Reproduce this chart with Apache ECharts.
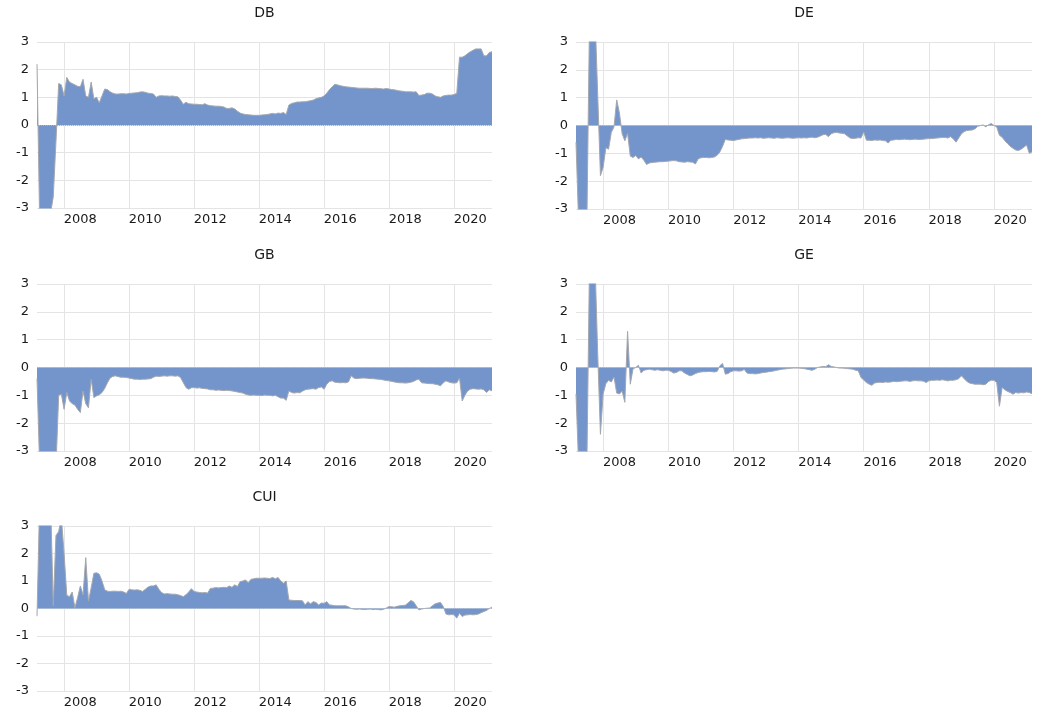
<!DOCTYPE html>
<html><head><meta charset="utf-8">
<script src="https://cdn.jsdelivr.net/npm/echarts@6/dist/echarts.min.js"></script>
<style>html,body{margin:0;padding:0;background:#fff}#c{width:1040px;height:711px}</style>
</head><body><div id="c"></div>
<script>
// Monthly observations, Mar 2007 .. Mar 2021
const startYear = 2007, startMonth = 3, monthCount = 169;
const months = [];
for (let k = 0; k < monthCount; k++) {
  const m = startMonth - 1 + k;
  const y = startYear + Math.floor(m / 12);
  const mm = m % 12 + 1;
  months.push(y + '-' + (mm < 10 ? '0' : '') + mm);
}
const yearLabels = ['2008', '2010', '2012', '2014', '2016', '2018', '2020'];
const panelTitles = ['DB', 'DE', 'GB', 'GE', 'CUI'];

const dbValues = [
  2.2, -3.6, -3.6, -3.6, -3.6, -3.2, -2.6, -0.6, 1.5, 1.45,
  1.05, 1.72, 1.55, 1.5, 1.45, 1.4, 1.38, 1.65, 1.05, 1.0, 1.55, 0.95,
  1.0, 0.8, 1.05, 1.3, 1.28, 1.2, 1.15, 1.12, 1.12, 1.13, 1.13, 1.12,
  1.14, 1.15, 1.16, 1.17, 1.19, 1.2, 1.18, 1.15, 1.14, 1.12, 1.0, 1.05,
  1.06, 1.05, 1.05, 1.04, 1.05, 1.03, 1.02, 0.9, 0.75, 0.82, 0.77, 0.76,
  0.75, 0.75, 0.74, 0.73, 0.77, 0.72, 0.7, 0.69, 0.68, 0.68, 0.67, 0.65,
  0.6, 0.6, 0.62, 0.58, 0.5, 0.43, 0.4, 0.38, 0.37, 0.36, 0.35, 0.35,
  0.35, 0.36, 0.37, 0.38, 0.4, 0.42, 0.4, 0.43, 0.42, 0.45, 0.38, 0.72,
  0.78, 0.8, 0.83, 0.83, 0.84, 0.84, 0.86, 0.88, 0.9, 0.95, 0.98, 1.0,
  1.05, 1.15, 1.28, 1.38, 1.47, 1.45, 1.42, 1.4, 1.38, 1.37, 1.36, 1.35,
  1.34, 1.33, 1.33, 1.33, 1.33, 1.32, 1.32, 1.33, 1.32, 1.31, 1.3, 1.32,
  1.3, 1.28, 1.27, 1.25, 1.23, 1.22, 1.2, 1.2, 1.2, 1.19, 1.2, 1.07,
  1.08, 1.1, 1.15, 1.15, 1.12, 1.05, 1.02, 1.0, 1.05, 1.07, 1.08, 1.08,
  1.1, 1.15, 2.45, 2.45, 2.5, 2.58, 2.65, 2.7, 2.75, 2.75, 2.75, 2.5,
  2.5, 2.62, 2.65
];
const deValues = [
  -0.6, -3.6, -3.6, -3.6, -3.6, 4, 4, 4, 1.1, -1.8,
  -1.5, -0.8, -0.85, -0.25, -0.05, 0.92, 0.45, -0.3, -0.55, -0.28, -1.1, -1.15,
  -1.08, -1.2, -1.13, -1.25, -1.4, -1.35, -1.33, -1.32, -1.31, -1.3, -1.3, -1.29,
  -1.28, -1.27, -1.26, -1.27, -1.3, -1.31, -1.32, -1.3, -1.31, -1.32, -1.38, -1.2,
  -1.16, -1.15, -1.15, -1.16, -1.15, -1.13, -1.07, -0.95, -0.75, -0.5, -0.52, -0.53,
  -0.54, -0.52, -0.5, -0.48, -0.47, -0.46, -0.45, -0.45, -0.44, -0.45, -0.44, -0.46,
  -0.45, -0.44, -0.45, -0.46, -0.44, -0.45, -0.46, -0.45, -0.44, -0.45, -0.46, -0.45,
  -0.44, -0.45, -0.44, -0.45, -0.43, -0.42, -0.44, -0.42, -0.38, -0.33, -0.32, -0.4,
  -0.3, -0.26, -0.25, -0.27, -0.28, -0.3, -0.38, -0.45, -0.47, -0.46, -0.44, -0.45,
  -0.23, -0.53, -0.53, -0.54, -0.52, -0.53, -0.52, -0.54, -0.55, -0.63, -0.53, -0.52,
  -0.5, -0.51, -0.5, -0.49, -0.5, -0.51, -0.5, -0.49, -0.5, -0.5, -0.49, -0.48,
  -0.47, -0.47, -0.46, -0.45, -0.44, -0.43, -0.43, -0.45, -0.4, -0.48, -0.6, -0.45,
  -0.3, -0.22, -0.18, -0.17, -0.16, -0.12, -0.03, 0.0, 0.02, -0.05, 0.03, 0.07,
  0.0, -0.05, -0.35, -0.42, -0.55, -0.65, -0.75, -0.82, -0.88, -0.9, -0.85, -0.78,
  -0.7, -1.0, -0.95
];
const gbValues = [
  -0.4, -3.6, -3.6, -3.6, -3.6, -3.6, -3.6, -3.6, -1.0, -0.96,
  -1.5, -0.9, -1.2, -1.3, -1.35, -1.5, -1.62, -0.84, -1.3, -1.45, -0.42, -1.08,
  -1.02, -0.98, -0.9, -0.75, -0.55, -0.38, -0.32, -0.3, -0.33, -0.35, -0.35, -0.36,
  -0.38, -0.4, -0.42, -0.42, -0.43, -0.42, -0.42, -0.41, -0.4, -0.35, -0.31, -0.32,
  -0.31, -0.3, -0.31, -0.3, -0.3, -0.31, -0.3, -0.36, -0.54, -0.72, -0.78, -0.73,
  -0.72, -0.74, -0.73, -0.75, -0.76, -0.77, -0.8, -0.8, -0.82, -0.81, -0.82, -0.83,
  -0.82, -0.83, -0.84, -0.86, -0.88, -0.9, -0.92, -0.96, -0.99, -1.0, -0.99, -1.0,
  -1.0, -1.01, -0.99, -1.0, -1.0, -1.02, -1.0, -1.05, -1.1, -1.1, -1.18, -0.84,
  -0.9, -0.92, -0.9, -0.91, -0.85, -0.8, -0.78, -0.77, -0.76, -0.78, -0.72, -0.7,
  -0.78, -0.6, -0.5, -0.48, -0.53, -0.54, -0.55, -0.54, -0.55, -0.52, -0.3, -0.38,
  -0.4, -0.39, -0.38, -0.38, -0.39, -0.4, -0.4, -0.41, -0.42, -0.43, -0.45, -0.47,
  -0.48, -0.5, -0.52, -0.54, -0.55, -0.55, -0.56, -0.55, -0.53, -0.5, -0.45, -0.42,
  -0.55, -0.56, -0.57, -0.58, -0.58, -0.6, -0.62, -0.66, -0.55, -0.48, -0.52, -0.55,
  -0.56, -0.55, -0.38, -1.2, -1.0, -0.84, -0.78, -0.76, -0.77, -0.78, -0.77, -0.8,
  -0.9, -0.8, -0.84
];
const geValues = [
  -0.95, -3.6, -3.6, -3.6, -3.6, 4, 4, 3.8, 0.5, -2.4,
  -0.95, -0.58, -0.46, -0.52, -0.34, -0.92, -0.95, -0.85, -1.25, 1.3, -0.6, -0.05,
  0.0, 0.08, -0.2, -0.1, -0.08, -0.06, -0.08, -0.1, -0.08, -0.1, -0.12, -0.1,
  -0.1, -0.14, -0.2, -0.18, -0.12, -0.12, -0.2, -0.25, -0.3, -0.27, -0.22, -0.18,
  -0.16, -0.15, -0.15, -0.14, -0.15, -0.16, -0.14, 0.06, 0.15, -0.24, -0.22, -0.15,
  -0.12, -0.12, -0.13, -0.12, -0.07, -0.2, -0.22, -0.22, -0.23, -0.22, -0.2, -0.18,
  -0.17, -0.15, -0.14, -0.12, -0.1, -0.08, -0.06, -0.05, -0.04, -0.03, -0.02, -0.02,
  -0.02, -0.03, -0.04, -0.06, -0.08, -0.1, -0.06, 0.0, 0.02, 0.04, 0.03, 0.1,
  0.04, 0.02, 0.0, -0.02, -0.02, -0.03, -0.04, -0.05, -0.06, -0.1, -0.12, -0.36,
  -0.45, -0.54, -0.6, -0.64, -0.56, -0.54, -0.53, -0.54, -0.52, -0.53, -0.52, -0.5,
  -0.51, -0.5, -0.49, -0.48, -0.48, -0.5, -0.48, -0.47, -0.48, -0.48, -0.49, -0.54,
  -0.48, -0.46, -0.46, -0.45, -0.46, -0.44, -0.46, -0.48, -0.46, -0.46, -0.44, -0.4,
  -0.3, -0.4, -0.5, -0.56, -0.58, -0.6, -0.6, -0.6, -0.62, -0.6, -0.5, -0.46,
  -0.46, -0.54, -1.39, -0.72, -0.8, -0.86, -0.9, -0.96, -0.9, -0.92, -0.9, -0.91,
  -0.88, -0.9, -0.94
];
const cuiValues = [
  -0.28, 4, 4, 4, 4, 4, 0.1, 2.65, 2.8, 3.3,
  2.0, 0.48, 0.43, 0.6, 0.03, 0.4, 0.82, 0.5, 1.85, 0.27, 0.75, 1.28,
  1.3, 1.25, 1.0, 0.68, 0.63, 0.62, 0.63, 0.63, 0.62, 0.63, 0.6, 0.55,
  0.7, 0.68, 0.67, 0.68, 0.66, 0.62, 0.7, 0.78, 0.82, 0.82, 0.86, 0.7,
  0.58, 0.53, 0.54, 0.53, 0.52, 0.52, 0.5, 0.47, 0.43, 0.5, 0.6, 0.72,
  0.62, 0.6, 0.58, 0.57, 0.58, 0.56, 0.73, 0.74, 0.76, 0.75, 0.76, 0.77,
  0.76, 0.82, 0.77, 0.86, 0.8, 0.98, 1.0, 1.04, 0.94, 1.06, 1.08, 1.1,
  1.1, 1.1, 1.11, 1.1, 1.09, 1.13, 1.08, 1.13, 1.0, 0.92, 1.0, 0.31,
  0.3, 0.29, 0.29, 0.29, 0.28, 0.13, 0.25, 0.17, 0.25, 0.22, 0.13, 0.2,
  0.19, 0.25, 0.13, 0.12, 0.1, 0.1, 0.1, 0.1, 0.1, 0.06, 0.0, -0.02,
  -0.03, -0.02, -0.03, -0.04, -0.03, -0.02, -0.04, -0.03, -0.04, -0.05, -0.03, 0.02,
  0.07, 0.06, 0.05, 0.08, 0.1, 0.11, 0.12, 0.2, 0.29, 0.25, 0.1, -0.05,
  -0.02, 0.0, 0.01, 0.02, 0.1, 0.17, 0.2, 0.22, 0.07, -0.2, -0.23, -0.22,
  -0.23, -0.35, -0.17, -0.29, -0.24, -0.23, -0.22, -0.23, -0.22, -0.2, -0.15, -0.11,
  -0.07, 0.0, 0.05
];
const panelValues = [dbValues, deValues, gbValues, geValues, cuiValues];

const grids = [
  { left: 37, top: 42, width: 455, height: 166 },
  { left: 576, top: 42, width: 456, height: 167 },
  { left: 37, top: 284, width: 455, height: 167 },
  { left: 576, top: 284, width: 456, height: 167 },
  { left: 37, top: 526, width: 455, height: 165 }
];
const FONT = 'DejaVu Sans';
const gridColor = '#e4e4e4';

const isYearStart = (i, v) => v.endsWith('-01') && yearLabels.includes(v.slice(0, 4));
const isYearMid = (i, v) => v.endsWith('-07') && yearLabels.includes(v.slice(0, 4));

const option = {
  animation: false,
  backgroundColor: '#fff',
  title: grids.map((g, k) => ({
    text: panelTitles[k],
    left: g.left + g.width / 2,
    top: g.top - 36,
    textAlign: 'center',
    padding: 0,
    textStyle: { fontFamily: FONT, fontSize: 14, fontWeight: 'normal', color: '#1a1a1a' }
  })),
  grid: grids.map(g => ({ left: g.left, top: g.top, width: g.width, height: g.height, containLabel: false })),
  xAxis: grids.map((g, k) => ({
    type: 'category',
    gridIndex: k,
    data: months,
    boundaryGap: false,
    axisLine: { show: false },
    axisTick: { show: true, interval: isYearStart, length: 5, lineStyle: { color: gridColor } },
    splitLine: { show: true, interval: isYearStart, lineStyle: { color: gridColor, width: 1 } },
    axisLabel: {
      interval: isYearMid,
      formatter: v => v.slice(0, 4),
      fontFamily: FONT, fontSize: 13, color: '#1a1a1a', margin: 5
    }
  })),
  yAxis: grids.map((g, k) => ({
    type: 'value',
    gridIndex: k,
    min: -3, max: 3, interval: 1,
    axisLine: { show: false },
    axisTick: { show: false },
    splitLine: { show: true, lineStyle: { color: gridColor, width: 1 } },
    axisLabel: { fontFamily: FONT, fontSize: 13, color: '#1a1a1a', margin: 8 }
  })),
  series: panelValues.map((vals, k) => ({
    type: 'line',
    name: panelTitles[k],
    xAxisIndex: k,
    yAxisIndex: k,
    data: vals,
    symbol: 'none',
    clip: true,
    lineStyle: { color: '#a4a7ad', width: 1 },
    areaStyle: { color: '#7395cc', opacity: 1 },
    markLine: {
      silent: true,
      symbol: 'none',
      label: { show: false },
      lineStyle: { color: '#aab4c8', type: 'dotted', width: 1 },
      data: [{ yAxis: 0 }]
    }
  }))
};
const chart = echarts.init(document.getElementById('c'), null, { renderer: 'canvas' });
chart.setOption(option);
</script>
</body></html>
